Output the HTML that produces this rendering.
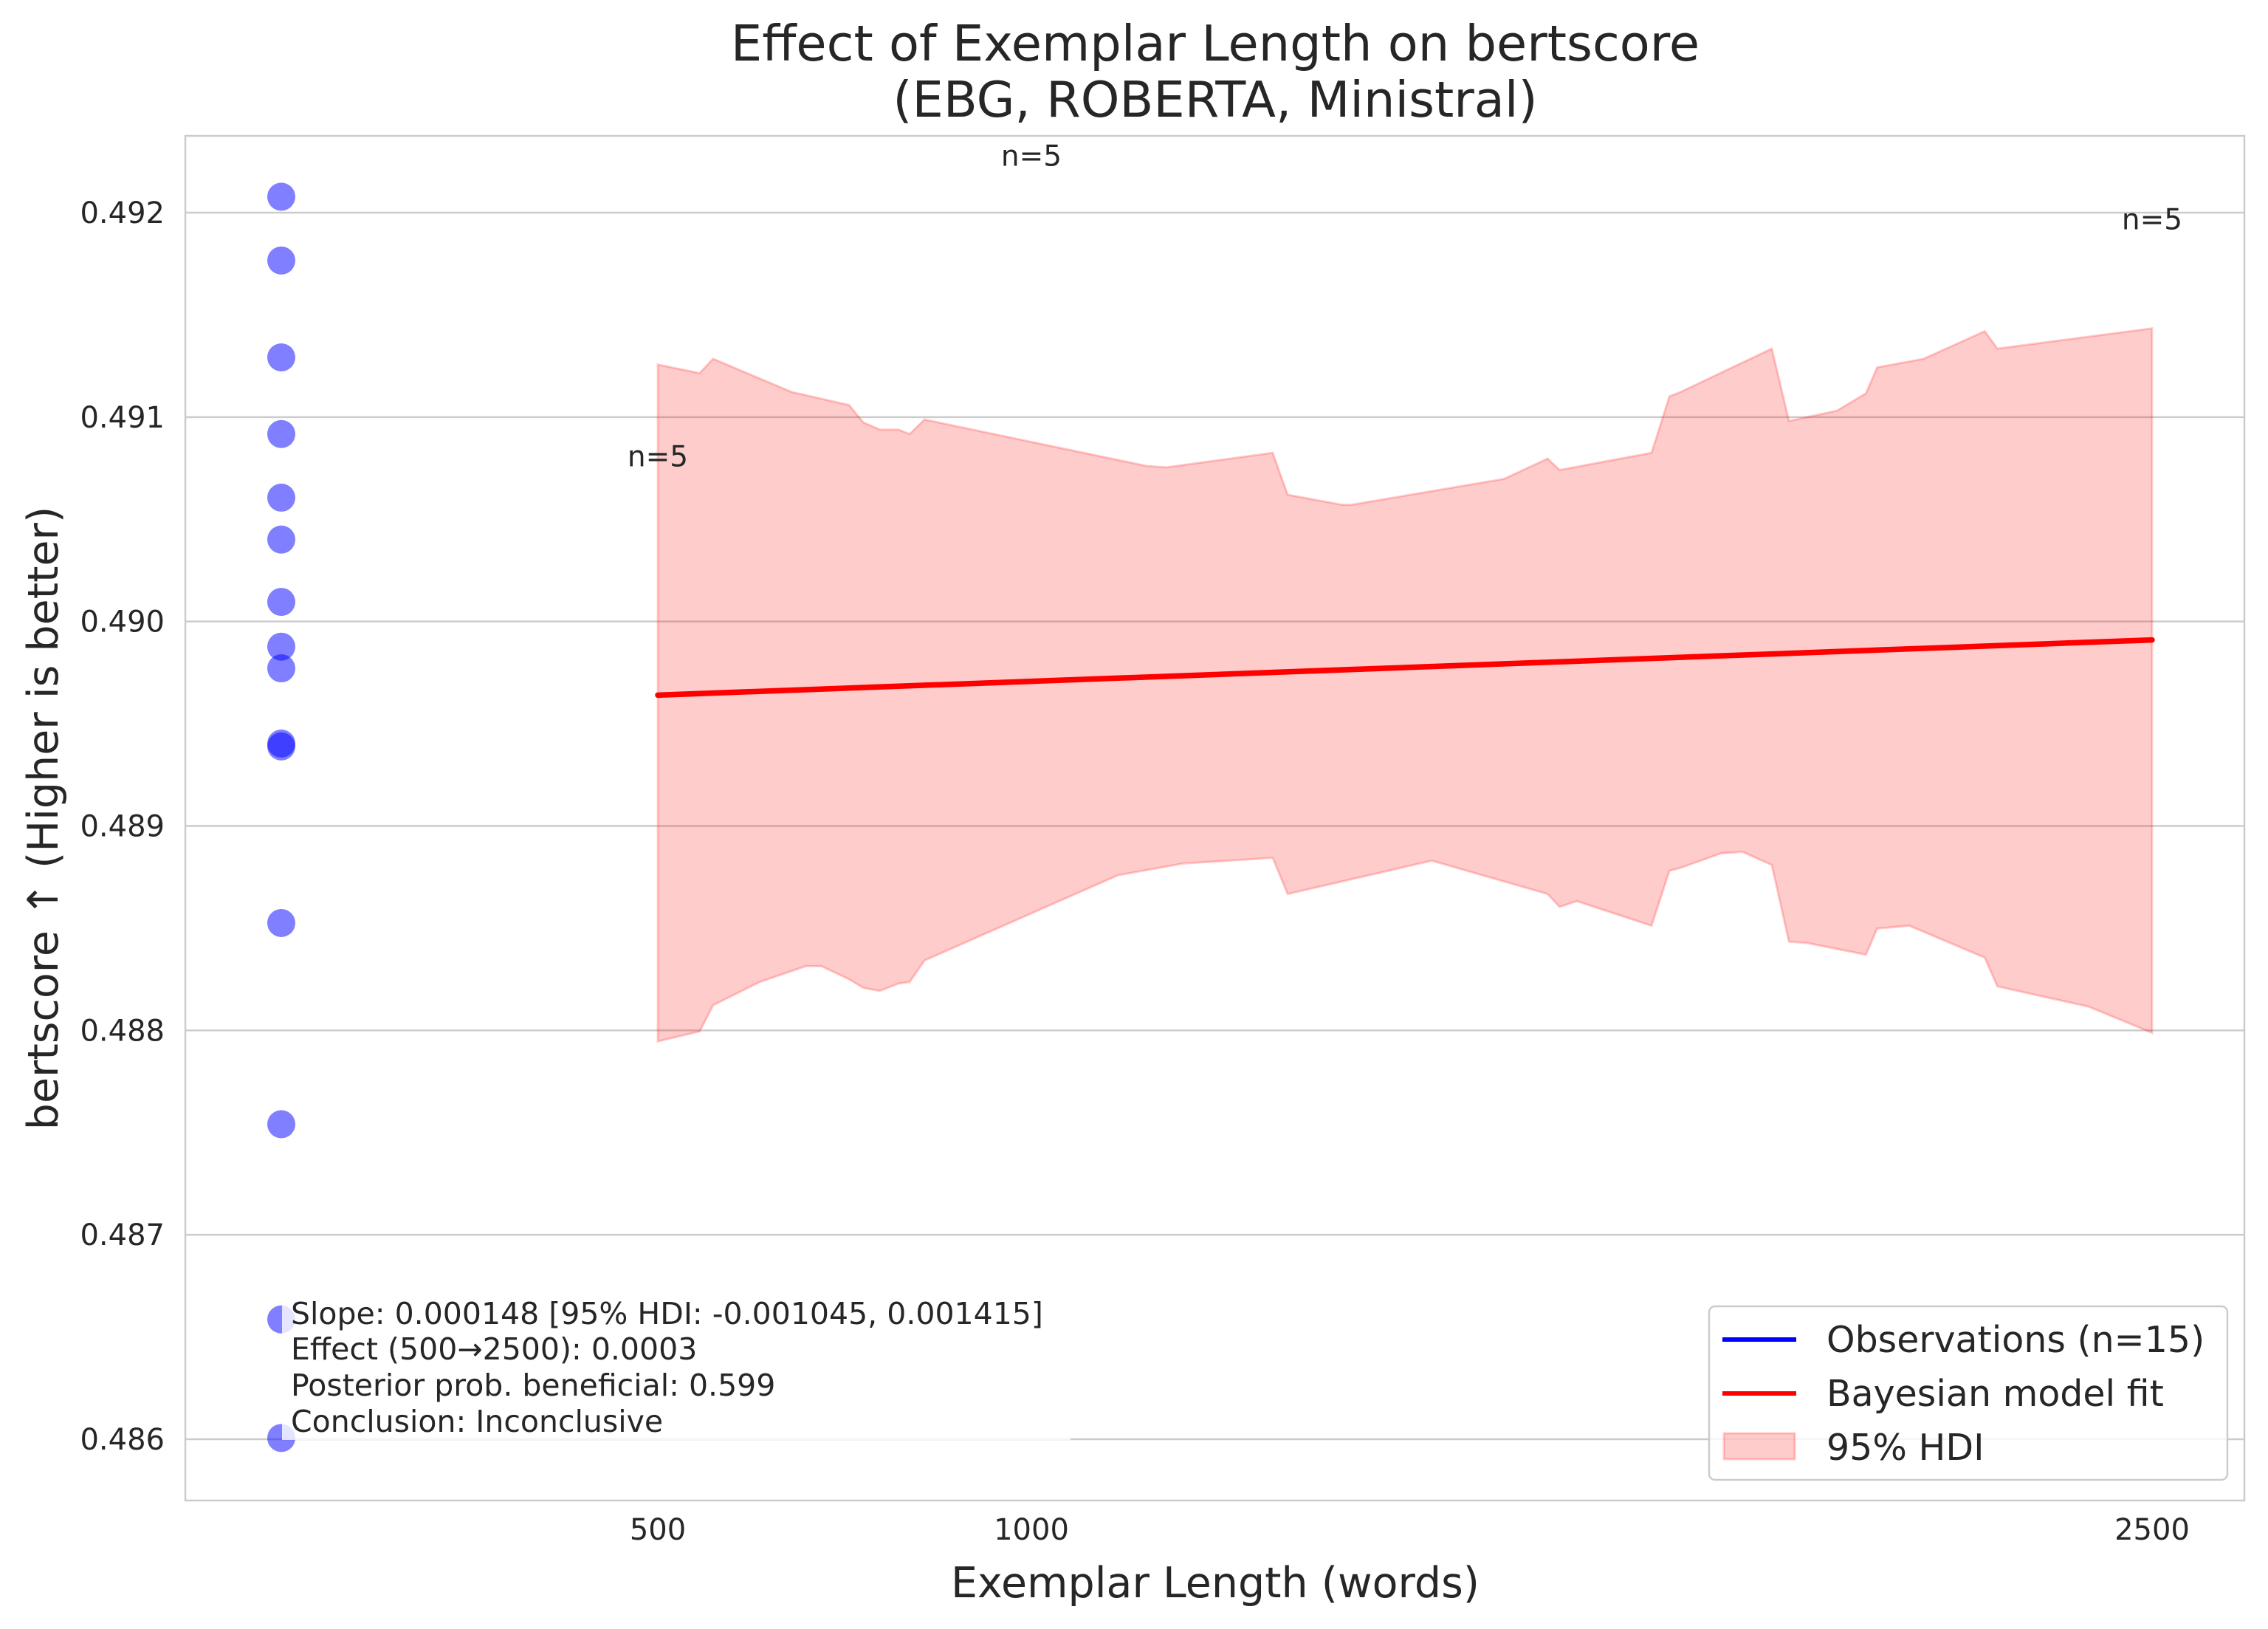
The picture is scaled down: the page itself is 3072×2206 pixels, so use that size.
<!DOCTYPE html>
<html><head><meta charset="utf-8">
<style>
html,body{margin:0;padding:0;background:#fff;}
svg{display:block;font-family:"DejaVu Sans","Liberation Sans",sans-serif;fill:#262626;}
</style></head>
<body>
<svg id="chart" width="3072" height="2206" viewBox="0 0 3072 2206" xmlns="http://www.w3.org/2000/svg">
<rect width="3072" height="2206" fill="#fff"/>
<text x="1646" y="82" font-size="67" text-anchor="middle" fill="#262626">Effect of Exemplar Length on bertscore</text>
<text x="1646" y="158" font-size="67" text-anchor="middle" fill="#262626">(EBG, ROBERTA, Ministral)</text>
<g id="grid"></g>
<g id="marks"></g>
<rect x="251" y="184" width="2789" height="1848" fill="none" stroke="#cccccc" stroke-width="2.5"/>
<g id="ticks"></g>
<text x="1646" y="2163" font-size="57" text-anchor="middle">Exemplar Length (words)</text>
<text transform="translate(78,1108) rotate(-90)" font-size="57" text-anchor="middle">bertscore ↑ (Higher is better)</text>
<g>
<rect x="382" y="1753" width="1068" height="197" fill="#fff" opacity="0.8"/>
<text x="394" y="1793" font-size="41">Slope: 0.000148 [95% HDI: -0.001045, 0.001415]</text>
<text x="394" y="1841" font-size="41">Effect (500→2500): 0.0003</text>
<text x="394" y="1890" font-size="41">Posterior prob. beneficial: 0.599</text>
<text x="394" y="1939" font-size="41">Conclusion: Inconclusive</text>
</g>
<g>
<rect x="2315" y="1769" width="702" height="235" rx="8" fill="#fff" fill-opacity="0.8" stroke="#cccccc" stroke-width="2.5"/>
<g>
<line x1="2333" y1="1814" x2="2433" y2="1814" stroke="#0000ff" stroke-width="6"/>
<text x="2474" y="1831" font-size="49">Observations (n=15)</text></g>
<g>
<line x1="2333" y1="1887" x2="2433" y2="1887" stroke="#ff0000" stroke-width="6"/>
<text x="2474" y="1904" font-size="49">Bayesian model fit</text></g>
<g>
<rect x="2335" y="1941" width="96" height="35" fill="#ff0000" fill-opacity="0.2" stroke="#ff0000" stroke-opacity="0.2" stroke-width="3"/>
<text x="2474" y="1977" font-size="49">95% HDI</text></g>
</g>
</svg>
<script>
const obsX = [0,0,0,0,0,0,0,0,0,0,0,0,0,0,0];
const obsY = [0.492078,0.491766,0.491292,0.490917,0.490606,0.490401,0.490096,0.489877,0.489771,0.489403,0.489389,0.488525,0.487541,0.486586,0.486006];
const fitX = [500, 2500];
const fitY = [0.48964, 0.48991];
const hdiUpperX = [500,556,574,679,756,775,797,822,837,857,1154,1180,1323,1343,1416,1428,1633,1691,1707,1768,1830,1854,1869,1991,2014,2078,2117,2132,2194,2276,2293,2500];
const hdiUpperY = [0.491257,0.491215,0.491285,0.491123,0.491059,0.490974,0.490939,0.490939,0.490917,0.490988,0.490761,0.490754,0.490825,0.490620,0.490571,0.490571,0.490698,0.490797,0.490741,0.490783,0.490825,0.491101,0.491123,0.491335,0.490981,0.491031,0.491116,0.491243,0.491285,0.491420,0.491335,0.491434];
const hdiLowerX = [500,556,574,636,698,719,756,775,797,822,837,857,1116,1203,1323,1343,1536,1691,1707,1730,1830,1854,1869,1923,1952,1991,2014,2039,2117,2132,2175,2276,2293,2415,2500];
const hdiLowerY = [0.487946,0.487995,0.488123,0.488236,0.488314,0.488314,0.488250,0.488208,0.488193,0.488229,0.488236,0.488342,0.488759,0.488816,0.488844,0.488667,0.488830,0.488667,0.488604,0.488632,0.488512,0.488781,0.488795,0.488866,0.488873,0.488809,0.488434,0.488427,0.488370,0.488498,0.488512,0.488356,0.488215,0.488116,0.487988];
const xTicks = [500, 1000, 2500];
const xTickLabels = ["500", "1000", "2500"];
const yTicks = [0.486, 0.487, 0.488, 0.489, 0.490, 0.491, 0.492];
const yTickLabels = ["0.486", "0.487", "0.488", "0.489", "0.490", "0.491", "0.492"];
const countX = [500, 1000, 2500];
const countY = [0.49081, 0.49228, 0.49197];
const countLabels = ["n=5", "n=5", "n=5"];

const NS = "http://www.w3.org/2000/svg";
function sx(w){ return 385 + w * 1.012; }
function sy(v){ return 288 + (0.492 - v) * 276830; }
function mk(tag, attrs, parent){
  const e = document.createElementNS(NS, tag);
  for (const k in attrs) e.setAttribute(k, attrs[k]);
  parent.appendChild(e);
  return e;
}
const grid = document.getElementById('grid');
const marks = document.getElementById('marks');
const ticks = document.getElementById('ticks');

yTicks.forEach((t, i) => {
  const l = mk('line', {x1: 251, x2: 3040, y1: sy(t), y2: sy(t), stroke: '#cccccc', 'stroke-width': 2.5}, grid);
  
  
  const tx = mk('text', {x: 223, y: sy(t) + 14, 'font-size': 40, 'text-anchor': 'end'}, ticks);
  tx.textContent = yTickLabels[i];
  
  
});
xTicks.forEach((t, i) => {
  const tx = mk('text', {x: sx(t), y: 2085, 'font-size': 40, 'text-anchor': 'middle'}, ticks);
  tx.textContent = xTickLabels[i];
  
  
});

let d = '';
hdiUpperX.forEach((x, i) => { d += (i ? 'L' : 'M') + sx(x) + ',' + sy(hdiUpperY[i]); });
for (let i = hdiLowerX.length - 1; i >= 0; i--) d += 'L' + sx(hdiLowerX[i]) + ',' + sy(hdiLowerY[i]);
d += 'Z';
const band = mk('path', {d: d, fill: '#ff0000', 'fill-opacity': 0.2, stroke: '#ff0000', 'stroke-opacity': 0.2, 'stroke-width': 3}, marks);



const fit = mk('line', {x1: sx(fitX[0]), y1: sy(fitY[0]), x2: sx(fitX[1]), y2: sy(fitY[1]), stroke: '#ff0000', 'stroke-width': 7.5, 'stroke-linecap': 'round'}, marks);



obsX.forEach((x, i) => {
  const c = mk('circle', {cx: sx(x) - 4, cy: sy(obsY[i]), r: 19, fill: '#0000ff', 'fill-opacity': 0.5}, marks);
  
  
});

countX.forEach((x, i) => {
  const t = mk('text', {x: sx(x), y: sy(countY[i]) + 14, 'font-size': 39, 'text-anchor': 'middle'}, marks);
  t.textContent = countLabels[i];
  
  
});
</script>
</body></html>
